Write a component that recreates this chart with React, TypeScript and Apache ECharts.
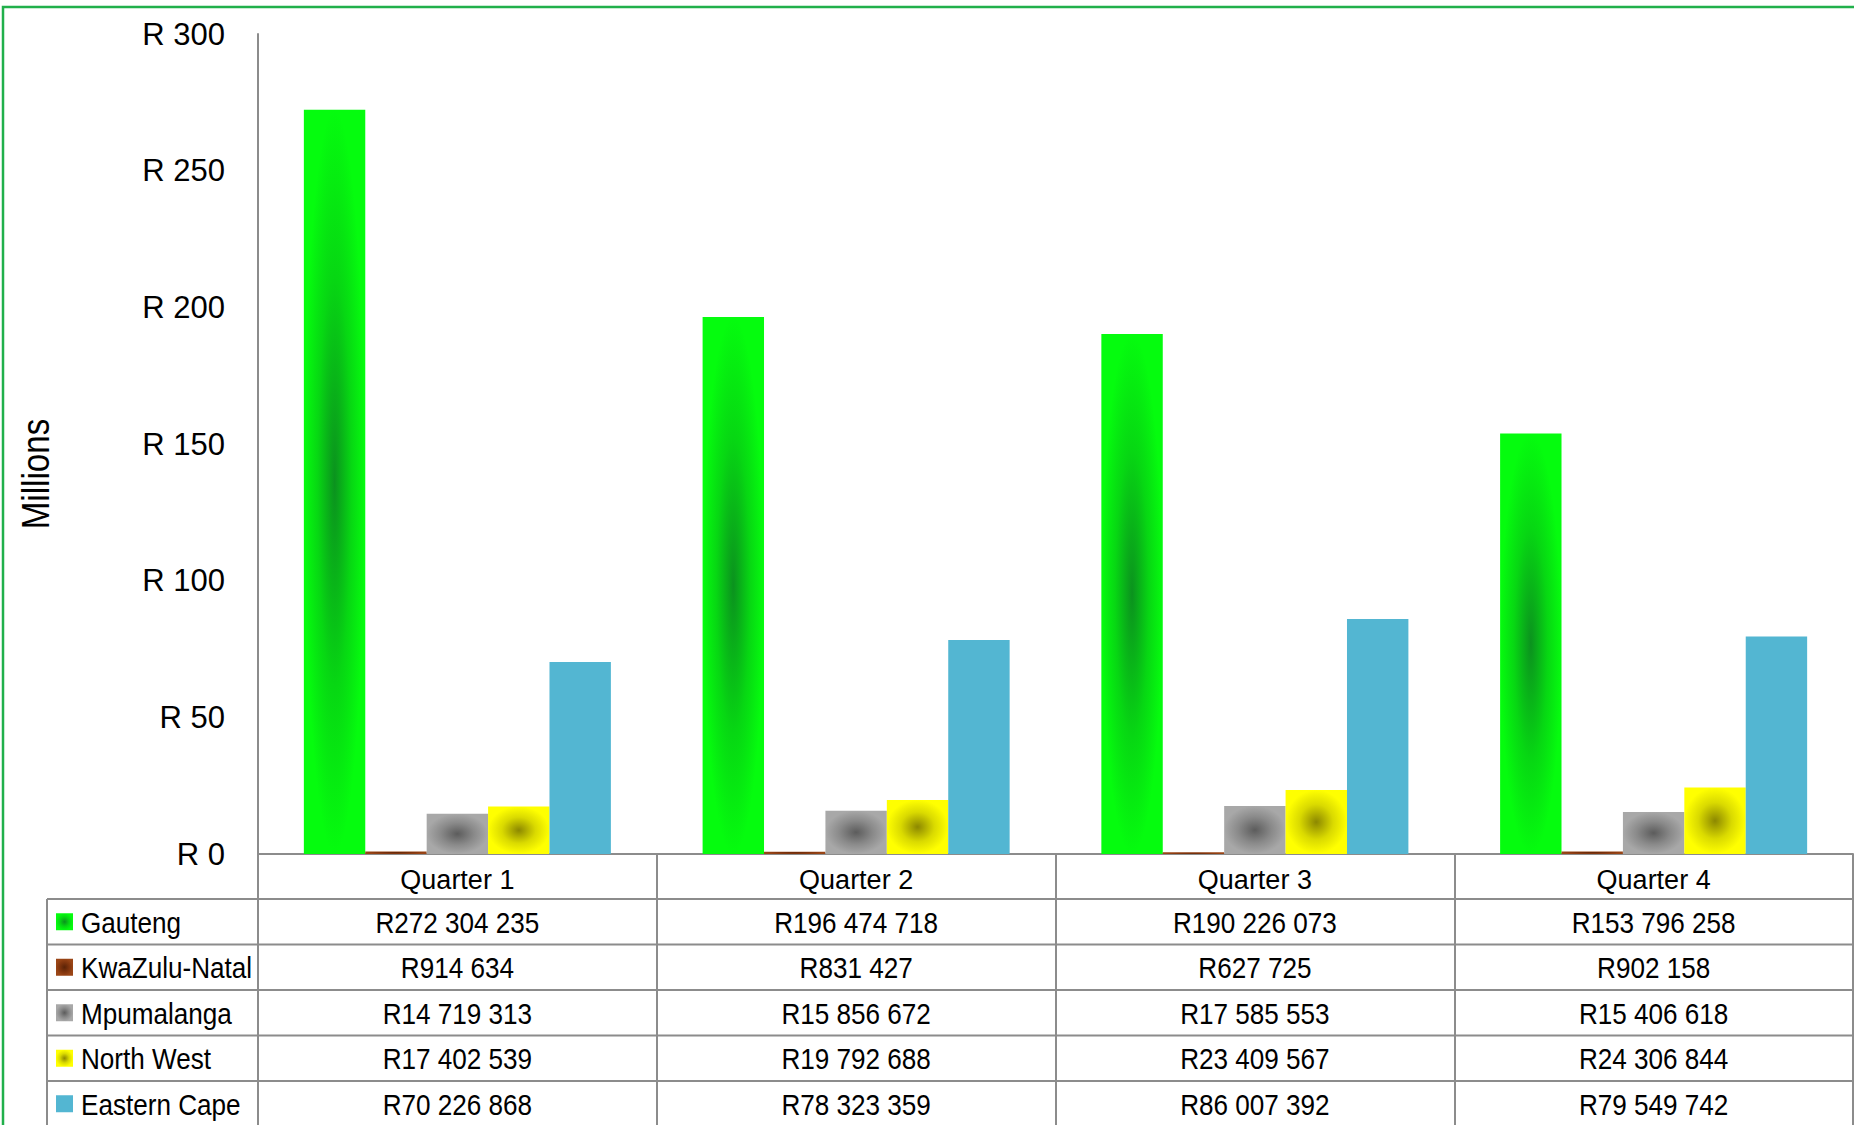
import React, { useEffect, useRef } from 'react';
import * as echarts from 'echarts';

const quarters = ['Quarter 1', 'Quarter 2', 'Quarter 3', 'Quarter 4'];
const provinces = ['Gauteng', 'KwaZulu-Natal', 'Mpumalanga', 'North West', 'Eastern Cape'];
const gauteng = [272304235, 196474718, 190226073, 153796258];
const kwazuluNatal = [914634, 831427, 627725, 902158];
const mpumalanga = [14719313, 15856672, 17585553, 15406618];
const northWest = [17402539, 19792688, 23409567, 24306844];
const easternCape = [70226868, 78323359, 86007392, 79549742];
const yMin = 0;
const yMax = 300;
const yStep = 50;

const W = 1854;
const H = 1125;
const FONT = "'Liberation Sans', Arial, sans-serif";
const GRID_L = 258;
const GRID_R = 1;
const GRID_T = 34;
const GRID_B = 271;
const AXIS_Y = H - GRID_B;
const HEADER_H = 45;
const ROW_H = 45.5;
const LINE = '#8c8c8c';
const SQUEEZE = 0.87;

const radial = (c0: string, c1: string, c2: string) =>
  new echarts.graphic.RadialGradient(0.5, 0.5, 0.5, [
    { offset: 0, color: c0 },
    { offset: 0.55, color: c1 },
    { offset: 1, color: c2 },
  ]);

const fmt = (n: number) => 'R' + String(n).replace(/\B(?=(\d{3})+(?!\d))/g, ' ');

export default function App() {
  const ref = useRef<HTMLDivElement>(null);
  useEffect(() => {
    document.body.style.margin = '0';
    if (!ref.current) return;
    const chart = echarts.init(ref.current, null, { renderer: 'svg' });
    const seriesData = [gauteng, kwazuluNatal, mpumalanga, northWest, easternCape];
    const fills: any[] = [
      radial('#0b921e', '#07d713', '#05fc0e'),
      radial('#5a2307', '#7f340d', '#9a4516'),
      radial('#5c5c5c', '#8a8a8a', '#a8a8a8'),
      radial('#8c8800', '#dada00', '#ffff00'),
      '#53b6d2',
    ];
    const plotW = W - GRID_L - GRID_R;
    const colW = plotW / quarters.length;
    const tableTop = AXIS_Y + HEADER_H;
    const tableLeft = 47;
    const graphics: any[] = [];
    graphics.push({
      type: 'rect',
      silent: true,
      z: -10,
      shape: { x: 3, y: 7, width: W + 50, height: H + 50 },
      style: { fill: 'none', stroke: '#21b04b', lineWidth: 2.5 },
    });
    graphics.push({
      type: 'text',
      x: 36,
      y: 474,
      rotation: Math.PI / 2,
      scaleX: 0.85,
      style: { text: 'Millions', font: `39px ${FONT}`, fill: '#000', align: 'center', verticalAlign: 'middle' },
    });
    for (let i = 0; i < provinces.length; i++) {
      const top = tableTop + i * ROW_H;
      graphics.push({
        type: 'line',
        shape: { x1: tableLeft, y1: top, x2: W - GRID_R, y2: top },
        style: { stroke: LINE, lineWidth: 2 },
      });
      graphics.push({
        type: 'rect',
        shape: { x: 56, y: top + ROW_H / 2 - 8.5, width: 17, height: 17 },
        style: { fill: fills[i] },
      });
      graphics.push({
        type: 'text',
        x: 81,
        y: top + ROW_H / 2 + 1,
        scaleX: SQUEEZE,
        style: { text: provinces[i], font: `30px ${FONT}`, fill: '#000', align: 'left', verticalAlign: 'middle' },
      });
      for (let j = 0; j < quarters.length; j++) {
        graphics.push({
          type: 'text',
          x: GRID_L + (j + 0.5) * colW,
          y: top + ROW_H / 2 + 1,
          scaleX: SQUEEZE,
          style: { text: fmt(seriesData[i][j]), font: `30px ${FONT}`, fill: '#000', align: 'center', verticalAlign: 'middle' },
        });
      }
    }
    graphics.push({
      type: 'line',
      shape: { x1: tableLeft, y1: tableTop, x2: tableLeft, y2: H + 10 },
      style: { stroke: LINE, lineWidth: 2 },
    });

    chart.setOption({
      animation: false,
      backgroundColor: '#fff',
      grid: { left: GRID_L, right: GRID_R, top: GRID_T, bottom: GRID_B, containLabel: false },
      xAxis: {
        type: 'category',
        data: quarters,
        axisLine: { lineStyle: { color: LINE, width: 2 } },
        axisTick: { show: true, length: GRID_B, lineStyle: { color: LINE, width: 2 } },
        axisLabel: { fontSize: 27, fontFamily: FONT, color: '#000', margin: 12 },
      },
      yAxis: {
        type: 'value',
        min: yMin,
        max: yMax,
        interval: yStep,
        axisLine: { show: true, lineStyle: { color: LINE, width: 2 } },
        axisTick: { show: false },
        splitLine: { show: false },
        axisLabel: { formatter: 'R {value}', fontSize: 31, fontFamily: FONT, color: '#000', margin: 33 },
      },
      series: provinces.map((name, i) => ({
        name,
        type: 'bar',
        barGap: '0%',
        barCategoryGap: '23%',
        data: seriesData[i].map((v) => v / 1e6),
        itemStyle: { color: fills[i] },
      })),
      graphic: graphics,
    });
    return () => chart.dispose();
  }, []);
  return <div ref={ref} style={{ width: W, height: H }} />;
}
